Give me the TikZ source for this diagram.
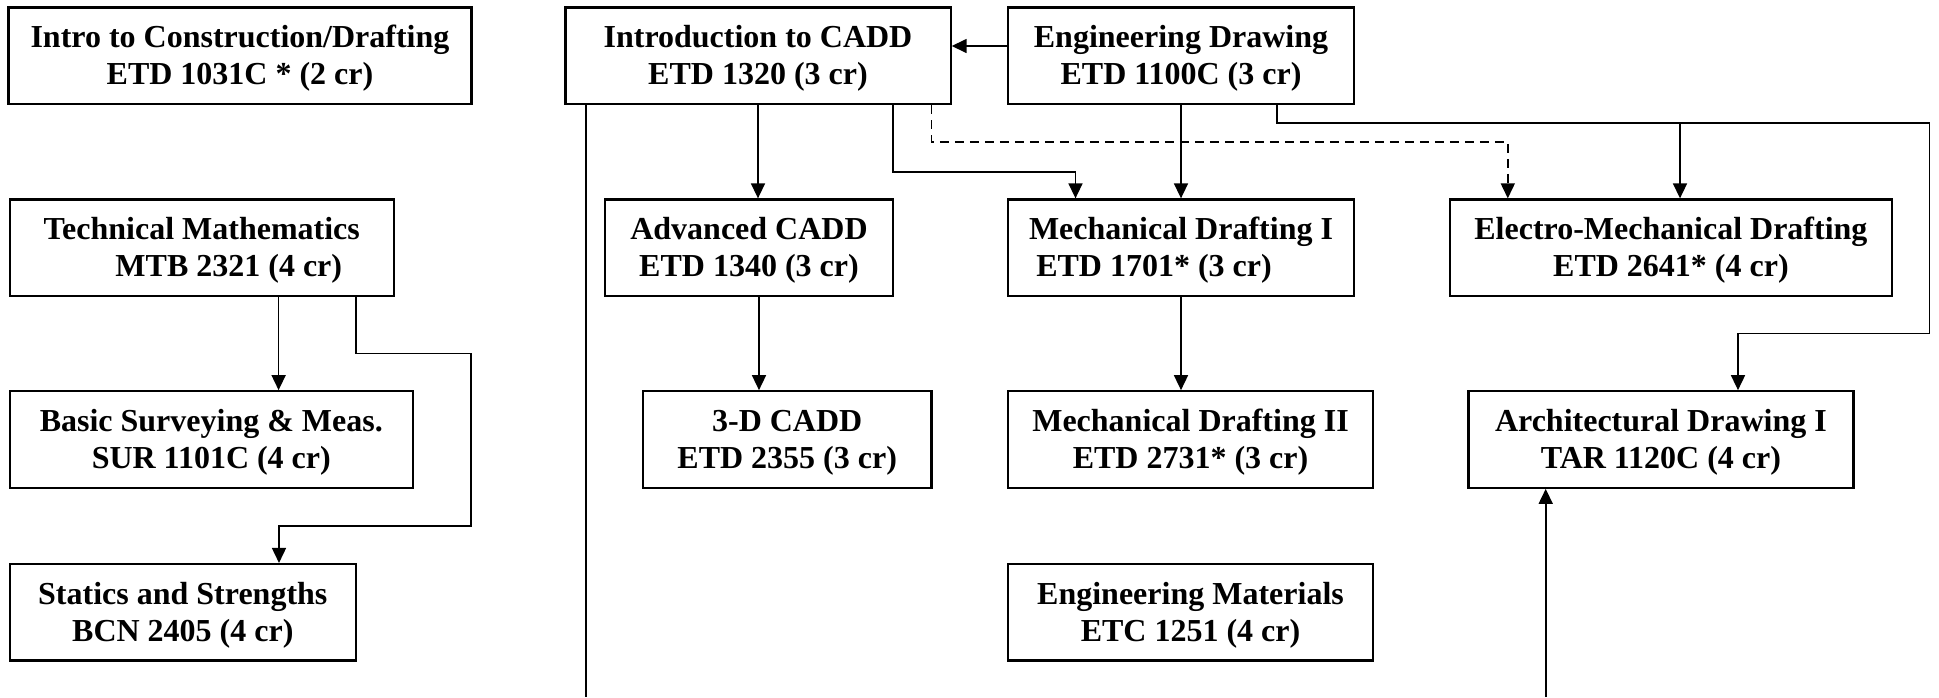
\documentclass[tikz,border=0pt]{standalone}
\usepackage{fontspec}
\setmainfont{Liberation Serif}
\usetikzlibrary{arrows.meta}
\newcommand\cstrut{\rule{0pt}{14pt}}
\tikzset{
  course/.style={draw, line width=1.1pt, inner sep=0pt, minimum height=48.25pt,
    align=center, font=\fontsize{16pt}{18.4pt}\selectfont\bfseries},
  link/.style={line width=0.8pt, -{Triangle[length=7.5pt,width=7pt]}},
  dashlink/.style={link, dash pattern=on 4.5pt off 3pt},
  plainline/.style={line width=0.8pt},
}
\begin{document}
\begin{tikzpicture}[x=0.5pt,y=-0.5pt]
\useasboundingbox (0,0) rectangle (1939,697);
\node[course, minimum width=231.5pt] (A) at (240,55.7) {\cstrut Intro to Construction/Drafting\\ETD 1031C * (2 cr)};
\node[course, minimum width=192.6pt] (B) at (758,55.7) {\cstrut Introduction to CADD\\ETD 1320 (3 cr)};
\node[course, minimum width=173pt] (C) at (1181,55.7) {\cstrut Engineering Drawing\\ETD 1100C (3 cr)};
\node[course, minimum width=192.2pt] (D) at (201.8,247.7) {\cstrut Technical Mathematics\\\hspace*{27pt}MTB 2321 (4 cr)};
\node[course, minimum width=144pt] (E) at (749,247.7) {\cstrut Advanced CADD\\ETD 1340 (3 cr)};
\node[course, minimum width=173pt] (F) at (1181,247.7) {\cstrut Mechanical Drafting I\\\hspace*{-27pt}ETD 1701* (3 cr)};
\node[course, minimum width=220.85pt] (G) at (1670.9,247.7) {\cstrut Electro-Mechanical Drafting\\ETD 2641* (4 cr)};
\node[course, minimum width=201.7pt] (H) at (211.3,439.5) {\cstrut Basic Surveying \& Meas.\\SUR 1101C (4 cr)};
\node[course, minimum width=144.35pt] (I) at (787.2,439.5) {\cstrut 3-D CADD\\ETD 2355 (3 cr)};
\node[course, minimum width=182.5pt] (J) at (1190.5,439.5) {\cstrut Mechanical Drafting II\\ETD 2731* (3 cr)};
\node[course, minimum width=192.5pt] (K) at (1660.9,439.5) {\cstrut Architectural Drawing I\\TAR 1120C (4 cr)};
\node[course, minimum width=173.2pt] (L) at (182.8,612.3) {\cstrut Statics and Strengths\\BCN 2405 (4 cr)};
\node[course, minimum width=182.5pt] (M) at (1190.5,612.3) {\cstrut Engineering Materials\\ETC 1251 (4 cr)};

\coordinate (offB) at (585.7,697);
\coordinate (offK) at (1545.7,697);

\draw[link] ([yshift=4.85pt]C.west) -- ([yshift=4.85pt]B.east);
\draw[link] (B.south) -- (B.south |- E.north);
\draw[link] (B.south -| 893,0) |- (1075.5,171.7) -- (F.north -| 1075.5,0);
\draw[dashlink] (B.south -| 931.6,0) |- (1507.8,141.7) -- (G.north -| 1507.8,0);
\draw[link] (C) -- (F);
\draw[link] (C.south -| 1277,0) |- (1929.6,122.7) |- (1738,333.3) -- (K.north -| 1738,0);
\draw[link] (1680,122.7) -- (G.north -| 1680,0);
\draw[link] (E.south -| 759,0) -- (I.north -| 759,0);
\draw[link] (F.south) -- (F.south |- J.north);
\draw[link] (D.south -| 278.6,0) -- (H.north -| 278.6,0);
\draw[link] (D.south -| 356,0) |- (470.7,353.3) |- (279,525.7) -- (L.north -| 279,0);
\draw[plainline] (B.south -| offB) -- (offB);
\draw[link] (offK) -- (offK |- K.south);
\end{tikzpicture}
\end{document}
